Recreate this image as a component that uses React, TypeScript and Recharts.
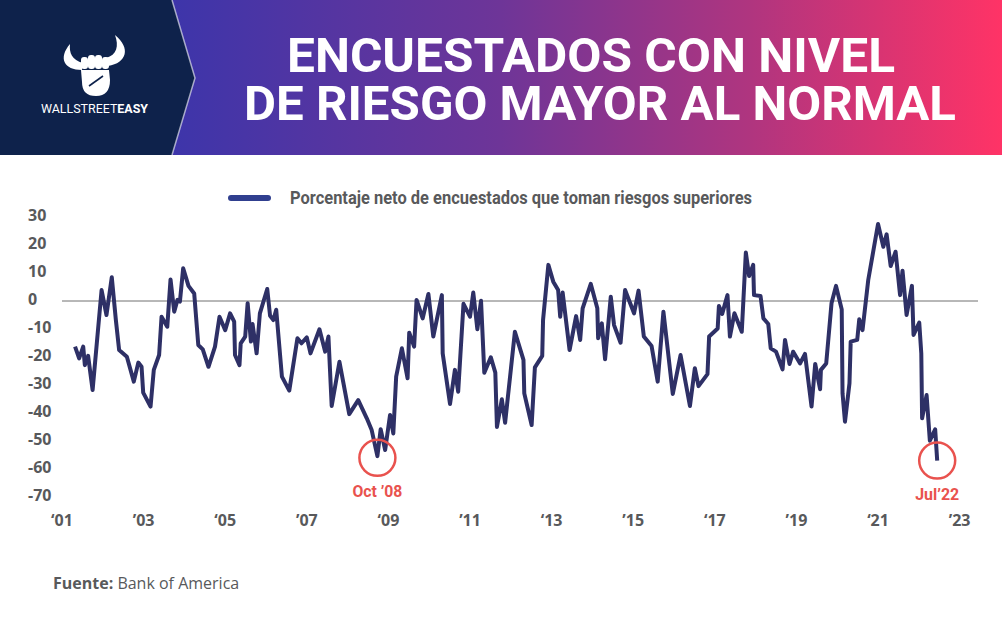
import React from 'react';
import { LineChart, Line, XAxis, YAxis, ReferenceLine, ReferenceDot } from 'recharts';

// decimal year of each reading
const dates = [
  2001.32, 2001.42, 2001.52, 2001.56, 2001.64, 2001.75, 2001.97, 2002.09, 2002.22, 2002.32,
  2002.4, 2002.59, 2002.76, 2002.87, 2002.95, 2002.99, 2003.17, 2003.25, 2003.38, 2003.44,
  2003.58, 2003.66, 2003.75, 2003.83, 2003.89, 2003.97, 2004.1, 2004.24, 2004.34, 2004.45,
  2004.59, 2004.75, 2004.86, 2005.0, 2005.12, 2005.22, 2005.24, 2005.35, 2005.38, 2005.49,
  2005.55, 2005.63, 2005.67, 2005.77, 2005.85, 2006.03, 2006.1, 2006.18, 2006.25, 2006.39,
  2006.57, 2006.77, 2006.87, 2007.0, 2007.09, 2007.31, 2007.45, 2007.53, 2007.61, 2007.8,
  2008.04, 2008.26, 2008.47, 2008.59, 2008.73, 2008.81, 2008.92, 2009.04, 2009.12, 2009.19,
  2009.33, 2009.47, 2009.51, 2009.63, 2009.69, 2009.84, 2009.98, 2010.1, 2010.31, 2010.33,
  2010.51, 2010.63, 2010.71, 2010.84, 2011.0, 2011.08, 2011.18, 2011.27, 2011.35, 2011.51,
  2011.62, 2011.66, 2011.78, 2011.86, 2012.1, 2012.31, 2012.33, 2012.51, 2012.59, 2012.77,
  2012.79, 2012.92, 2013.04, 2013.16, 2013.21, 2013.27, 2013.44, 2013.6, 2013.7, 2013.76,
  2013.96, 2014.12, 2014.14, 2014.23, 2014.31, 2014.45, 2014.53, 2014.69, 2014.8, 2015.02,
  2015.13, 2015.26, 2015.45, 2015.6, 2015.74, 2015.97, 2016.16, 2016.39, 2016.51, 2016.6,
  2016.82, 2016.86, 2017.07, 2017.1, 2017.18, 2017.31, 2017.37, 2017.48, 2017.66, 2017.76,
  2017.84, 2017.94, 2017.96, 2018.12, 2018.19, 2018.31, 2018.37, 2018.5, 2018.66, 2018.72,
  2018.83, 2018.92, 2019.09, 2019.21, 2019.37, 2019.46, 2019.58, 2019.6, 2019.73, 2019.86,
  2019.97, 2020.11, 2020.13, 2020.19, 2020.3, 2020.33, 2020.49, 2020.54, 2020.62, 2020.76,
  2021.0, 2021.13, 2021.21, 2021.31, 2021.43, 2021.54, 2021.6, 2021.7, 2021.83, 2021.87,
  2022.01, 2022.06, 2022.08, 2022.19, 2022.27, 2022.4, 2022.45,
];

const riskTakers = [
  -16.3, -20.5, -16.3, -22.9, -19.6, -31.8, 3.9, -5, 8.5, -6.8,
  -17.5, -19.9, -28.8, -22, -23.5, -32.7, -37.7, -24.6, -19.3, -5.6,
  -9.2, 7.7, -3.8, 0.4, -0.2, 11.7, 5.4, 2.7, -15.7, -17.3,
  -23.5, -16.3, -5.6, -10.4, -4.4, -7.4, -19.3, -22.9, -15.1, -12.7,
  -0.8, -14.5, -8.2, -18.7, -4.4, 4.3, -5.3, -6.8, -3.1, -27,
  -32, -13.3, -15.1, -13, -18.7, -10.1, -18.1, -12.7, -37.5, -21.7,
  -40.4, -35.4, -41.9, -46.1, -55.4, -45.8, -53.2, -40.7, -47.3, -27,
  -16.9, -27.6, -11.3, -16.3, 0.4, -6.2, 2.5, -12.7, 2.1, -18.7,
  -36.8, -24.6, -32.4, -1, -5.6, 3, -10.1, 0.1, -25.6, -20.1,
  -25.6, -45, -35.1, -43.5, -11, -21, -33, -44.3, -23.7, -19.6,
  -6.8, 12.9, 6.9, 3.9, -5.6, 3, -17.5, -5.4, -13.9, -2.6,
  6.1, -2.6, -13.3, -8, -20.8, 1.5, -8.6, -14.9, 3.9, -4.4,
  3.7, -12.7, -16.1, -28.8, -3.8, -33.2, -19.3, -37.5, -24, -30.4,
  -26.1, -12.7, -9.8, -1.8, -4.6, 2.1, -12.7, -4.4, -11, 17.3,
  8.9, 12.9, 2.1, 1.8, -6.2, -8.2, -16.9, -18.1, -24.4, -13.9,
  -22.5, -18.1, -22.3, -18.9, -37.7, -22.5, -31.5, -24.6, -22.3, -0.8,
  5.4, -3, -33, -43.1, -29.4, -14.5, -13.9, -6.5, -10.4, 7.5,
  27.5, 19.4, 23.8, 12.5, 17.6, 2.1, 10.8, -5, 5.4, -12.1,
  -7.7, -18.7, -41.9, -33.6, -49.9, -45.8, -57,
];

const xTicks = [2001, 2003, 2005, 2007, 2009, 2011, 2013, 2015, 2017, 2019, 2021, 2023];
const xTickLabels = ['‘01', '’03', '‘05', '’07', '‘09', '’11', '‘13', '’15', '‘17', '’19', '‘21', '’23'];
const yTicks = [30, 20, 10, 0, -10, -20, -30, -40, -50, -60, -70];

const seriesName = 'Porcentaje neto de encuestados que toman riesgos superiores';
const titleLines = ['ENCUESTADOS CON NIVEL', 'DE RIESGO MAYOR AL NORMAL'];

const markDates = [2008.73, 2022.45];
const markValues = [-56, -57];
const markLabels = ['Oct ’08', 'Jul’22'];

const data = dates.map((d, i) => ({ date: d, value: riskTakers[i] }));

const LINE = '#2e3066';
const GREY = '#58595b';
const RED = '#e9524e';
const tickFont = "'Open Sans', sans-serif";
const narrowFont = "Roboto, sans-serif";

function YTick(props: any) {
  const { y, payload } = props;
  return (
    <text x={28} y={y + 4} textAnchor="start" fill={GREY} fontSize={16} fontWeight={700} fontFamily={tickFont}>
      {payload.value}
    </text>
  );
}

function XTick(props: any) {
  const { x, y, payload } = props;
  const i = xTicks.indexOf(payload.value);
  return (
    <text x={x} y={y + 21} textAnchor="middle" fill={GREY} fontSize={16} fontWeight={700} fontFamily={tickFont}>
      {xTickLabels[i]}
    </text>
  );
}

function markLabel(text: string, width: number) {
  return (props: any) => {
    const vb = props.viewBox;
    const cx = vb.x + vb.width / 2;
    return (
      <text
        x={cx - width / 2}
        y={vb.y + vb.height + 21}
        fill={RED}
        fontSize={17}
        fontWeight={700}
        fontFamily={narrowFont}
        textLength={width}
        lengthAdjust="spacingAndGlyphs"
      >
        {text}
      </text>
    );
  };
}

function Header() {
  return (
    <svg width={1002} height={155} style={{ position: 'absolute', left: 0, top: 0 }}>
      <defs>
        <linearGradient id="hdr" x1="0" y1="0" x2="1" y2="0">
          <stop offset="0.17" stopColor="#3d35aa" />
          <stop offset="0.5" stopColor="#6e3598" />
          <stop offset="0.75" stopColor="#b0357f" />
          <stop offset="1" stopColor="#ff3366" />
        </linearGradient>
      </defs>
      <rect x={0} y={0} width={1002} height={155} fill="url(#hdr)" />
      <polygon points="0,0 172,0 195,78 172,155 0,155" fill="#0e224b" />
      <polyline points="172,0 195,78 172,155" fill="none" stroke="#ffffff" strokeOpacity={0.6} strokeWidth={1.5} />
      {/* logo */}
      <g fill="#ffffff">
        <path d="M82 70 C64 70 58 58 70 44 C69 53 72 60 83 63 Z" />
        <path d="M108 66 C127 63 131 48 115 35 C119 46 117 55 106 58 Z" />
        <rect x={81} y={57} width={7} height={12} rx={3} />
        <rect x={88} y={55} width={7} height={14} rx={3} />
        <rect x={95} y={55} width={7} height={14} rx={3} />
        <rect x={102} y={57} width={7} height={12} rx={3} />
        <path d="M81 70 L109 70 L110 80 Q110 96 96 96 Q82 96 82 82 Z" />
      </g>
      <line x1={89} y1={86} x2={103} y2={76} stroke="#0e224b" strokeWidth={1.6} />
      <text x={41} y={113} fill="#ffffff" fontSize={12} fontFamily={narrowFont} textLength={107} lengthAdjust="spacingAndGlyphs">
        WALLSTREET<tspan fontWeight={700}>EASY</tspan>
      </text>
      <text fill="#ffffff" fontSize={48} fontWeight={700} fontFamily={narrowFont}>
        <tspan x={287} y={72} textLength={608} lengthAdjust="spacingAndGlyphs">
          {titleLines[0]}
        </tspan>
        <tspan x={244} y={120} textLength={712} lengthAdjust="spacingAndGlyphs">
          {titleLines[1]}
        </tspan>
      </text>
    </svg>
  );
}

export default function App() {
  return (
    <div style={{ position: 'relative', width: 1002, height: 636, background: '#fff', overflow: 'hidden' }}>
      <style>{'body{margin:0}'}</style>
      <Header />
      <svg width={1002} height={30} style={{ position: 'absolute', left: 0, top: 184 }}>
        <line x1={231} y1={14} x2={268} y2={14} stroke="#303f8f" strokeWidth={6} strokeLinecap="round" />
        <text x={290} y={20} fill={GREY} fontSize={18} fontWeight={700} fontFamily={narrowFont} textLength={462} lengthAdjust="spacingAndGlyphs">
          {seriesName}
        </text>
      </svg>
      <div style={{ position: 'absolute', left: 0, top: 160 }}>
        <LineChart width={1002} height={476} data={data} margin={{ top: 57, right: 24, bottom: 109, left: 28 }}>
          <XAxis
            dataKey="date"
            type="number"
            domain={[2001, 2023.45]}
            ticks={xTicks}
            axisLine={false}
            tickLine={false}
            height={30}
            tick={<XTick />}
            interval={0}
          />
          <YAxis
            type="number"
            domain={[-70, 30]}
            ticks={yTicks}
            axisLine={false}
            tickLine={false}
            width={34}
            tick={<YTick />}
            interval={0}
          />
          <ReferenceLine y={0} stroke="#707070" strokeWidth={1} />
          <Line
            type="linear"
            dataKey="value"
            name={seriesName}
            stroke={LINE}
            strokeWidth={4}
            strokeLinejoin="round"
            dot={false}
            activeDot={false}
            isAnimationActive={false}
          />
          {markDates.map((d, i) => (
            <ReferenceDot
              key={d}
              x={d}
              y={markValues[i]}
              r={18}
              fill="none"
              stroke={RED}
              strokeWidth={2.5}
              label={markLabel(markLabels[i], i === 0 ? 50 : 44)}
            />
          ))}
        </LineChart>
      </div>
      <svg width={400} height={30} style={{ position: 'absolute', left: 0, top: 570 }}>
        <text x={53} y={19} fill={GREY} fontSize={16} fontFamily={tickFont}>
          <tspan fontWeight={700}>Fuente:</tspan> Bank of America
        </text>
      </svg>
    </div>
  );
}
